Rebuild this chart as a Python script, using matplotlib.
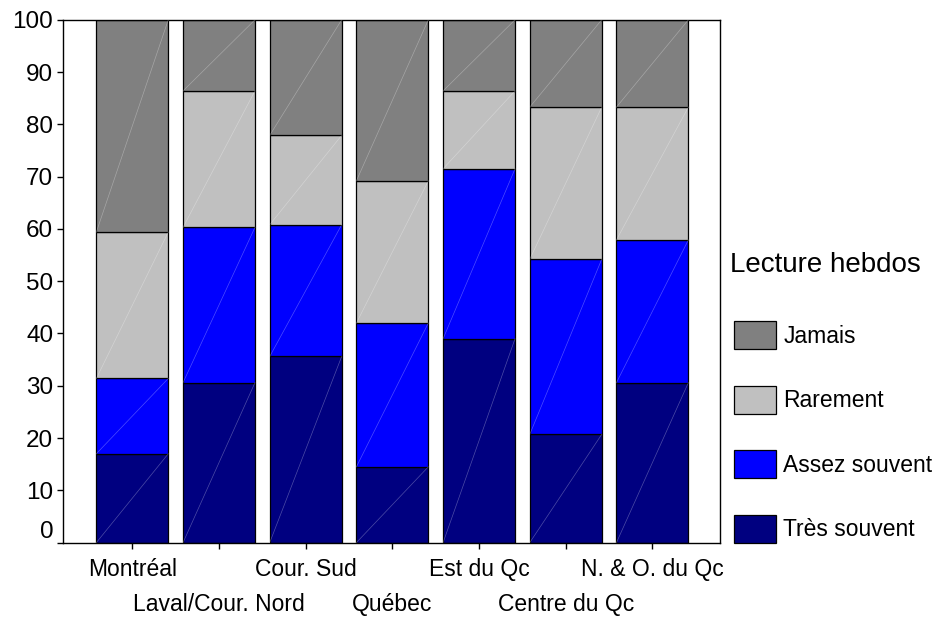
import matplotlib
matplotlib.use('Agg')
import matplotlib.pyplot as plt
import numpy as np

plt.rcParams['font.family'] = ['Liberation Sans', 'DejaVu Sans']

regions = ['Montréal', 'Laval/Cour. Nord', 'Cour. Sud', 'Québec',
           'Est du Qc', 'Centre du Qc', 'N. & O. du Qc']
# percentages per reading frequency
tres_souvent = [17.0, 30.6, 35.6, 14.5, 39.0, 20.7, 30.6]
assez_souvent = [14.4, 29.7, 25.2, 27.5, 32.5, 33.5, 27.3]
rarement = [28.0, 26.1, 17.1, 27.2, 14.9, 29.1, 25.4]
jamais = [40.6, 13.6, 22.1, 30.8, 13.6, 16.7, 16.7]

series = [('Très souvent', tres_souvent, '#000080'),
          ('Assez souvent', assez_souvent, '#0000ff'),
          ('Rarement', rarement, '#c0c0c0'),
          ('Jamais', jamais, '#808080')]

fig = plt.figure(figsize=(9.4, 6.18), dpi=100)
ax = fig.add_axes([0.067, 0.122, 0.699, 0.846])

x = np.arange(len(regions))
bottom = np.zeros(len(regions))
handles = []
for name, vals, col in series:
    bars = ax.bar(x, vals, bottom=bottom, width=0.83, color=col,
                  edgecolor='black', linewidth=0.9, label=name, zorder=2)
    # thin diagonal line inside each segment (corner to corner)
    for p in bars.patches:
        x0, y0 = p.get_x(), p.get_y()
        ax.plot([x0, x0 + p.get_width()], [y0, y0 + p.get_height()],
                color='white', alpha=0.3, lw=0.5, zorder=3)
    handles.append(bars)
    bottom += np.array(vals)

ax.set_xlim(-0.8, 6.78)
ax.set_ylim(0, 100)
ax.set_yticks(np.arange(0, 101, 10))
ax.set_xticks(x)
ax.set_xticklabels(regions)
ax.tick_params(axis='both', direction='out', length=4, width=1)
ax.tick_params(axis='x', labelsize=16.5)
ax.tick_params(axis='y', labelsize=17.5, pad=3)
for i, t in enumerate(ax.xaxis.get_major_ticks()):
    t.set_pad(7 if i % 2 == 0 else 32)
ax.get_yticklabels()[0].set_va('bottom')
for s in ax.spines.values():
    s.set_linewidth(1)

leg = ax.legend(handles[::-1], [s[0] for s in series][::-1],
                loc='lower left', bbox_to_anchor=(1.008, -0.018),
                frameon=False, fontsize=16.5, handlelength=1.83,
                handleheight=1.5, labelspacing=1.6, handletextpad=0.3,
                borderaxespad=0)
ax.text(1.0152, 0.5185, 'Lecture hebdos', transform=ax.transAxes,
        fontsize=20, va='baseline', ha='left')

fig.savefig('out.png', dpi=100)
